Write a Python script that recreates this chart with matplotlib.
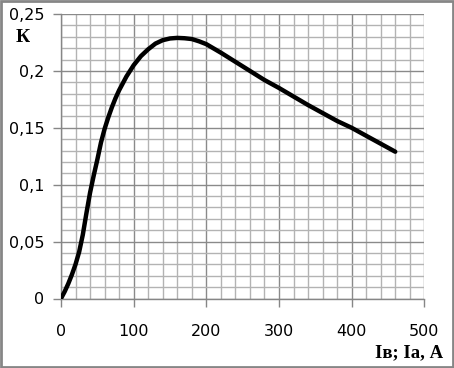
import numpy as np
import matplotlib.pyplot as plt
from matplotlib.patches import Rectangle
from matplotlib.ticker import MultipleLocator, FuncFormatter

# current, A
current = [0, 5, 10, 15, 20, 25, 30, 35, 40, 45, 50, 55, 60, 65, 70, 75, 80,
           85, 90, 95, 100, 110, 120, 130, 140, 150, 160, 170, 180, 190, 200,
           220, 240, 260, 280, 300, 320, 340, 360, 380, 400, 420, 440, 460]
# coefficient K
k_vals = [0, 0.006, 0.013, 0.021, 0.030, 0.041, 0.056, 0.075, 0.093, 0.108,
          0.122, 0.137, 0.149, 0.159, 0.168, 0.176, 0.183, 0.189, 0.195,
          0.200, 0.205, 0.213, 0.219, 0.224, 0.227, 0.2285, 0.229, 0.2287,
          0.228, 0.226, 0.2235, 0.216, 0.208, 0.200, 0.192, 0.185, 0.1775,
          0.170, 0.163, 0.156, 0.150, 0.143, 0.136, 0.129]

fig = plt.figure(figsize=(4.54, 3.68), dpi=100)
ax = fig.add_axes([61 / 454, 1 - 298.5 / 368, 363.3 / 454, 284.5 / 368])

ax.plot(current, k_vals, color='black', linewidth=3.2,
        solid_joinstyle='round', solid_capstyle='round', zorder=3)

ax.set_xlim(0, 500)
ax.set_ylim(0, 0.25)
ax.xaxis.set_major_locator(MultipleLocator(100))
ax.xaxis.set_minor_locator(MultipleLocator(20))
ax.yaxis.set_major_locator(MultipleLocator(0.05))
ax.yaxis.set_minor_locator(MultipleLocator(0.01))

def comma_fmt(v, pos):
    s = ('%.2f' % v).rstrip('0').rstrip('.')
    return s.replace('.', ',')

ax.yaxis.set_major_formatter(FuncFormatter(comma_fmt))

ax.grid(which='minor', color='#b3b3b3', linewidth=1.0)
ax.grid(which='major', color='#8a8a8a', linewidth=1.0)
ax.set_axisbelow(True)

for side in ['top', 'right']:
    ax.spines[side].set_visible(False)
for side in ['left', 'bottom']:
    ax.spines[side].set_color('#868686')
    ax.spines[side].set_linewidth(1.0)

ax.tick_params(which='major', length=6, width=1.0, color='#868686',
               labelsize=11.5, pad=6)
ax.tick_params(which='minor', length=0)
for lab in ax.get_xticklabels() + ax.get_yticklabels():
    lab.set_family('DejaVu Sans')
ax.tick_params(axis='x', pad=12)

fig.text(23 / 454, 1 - 37 / 368, 'К', family='Liberation Serif',
         fontweight='bold', fontsize=14, ha='center', va='center')
fig.text(443 / 454, 1 - 352.5 / 368, 'Iв; Iа, А', family='Liberation Serif',
         fontweight='bold', fontsize=13.5, ha='right', va='center')

fig.patches.append(Rectangle((0.002, 0.003), 0.995, 0.994,
                             transform=fig.transFigure, fill=False,
                             edgecolor='#868686', linewidth=2))

fig.savefig('out.png', dpi=100)
